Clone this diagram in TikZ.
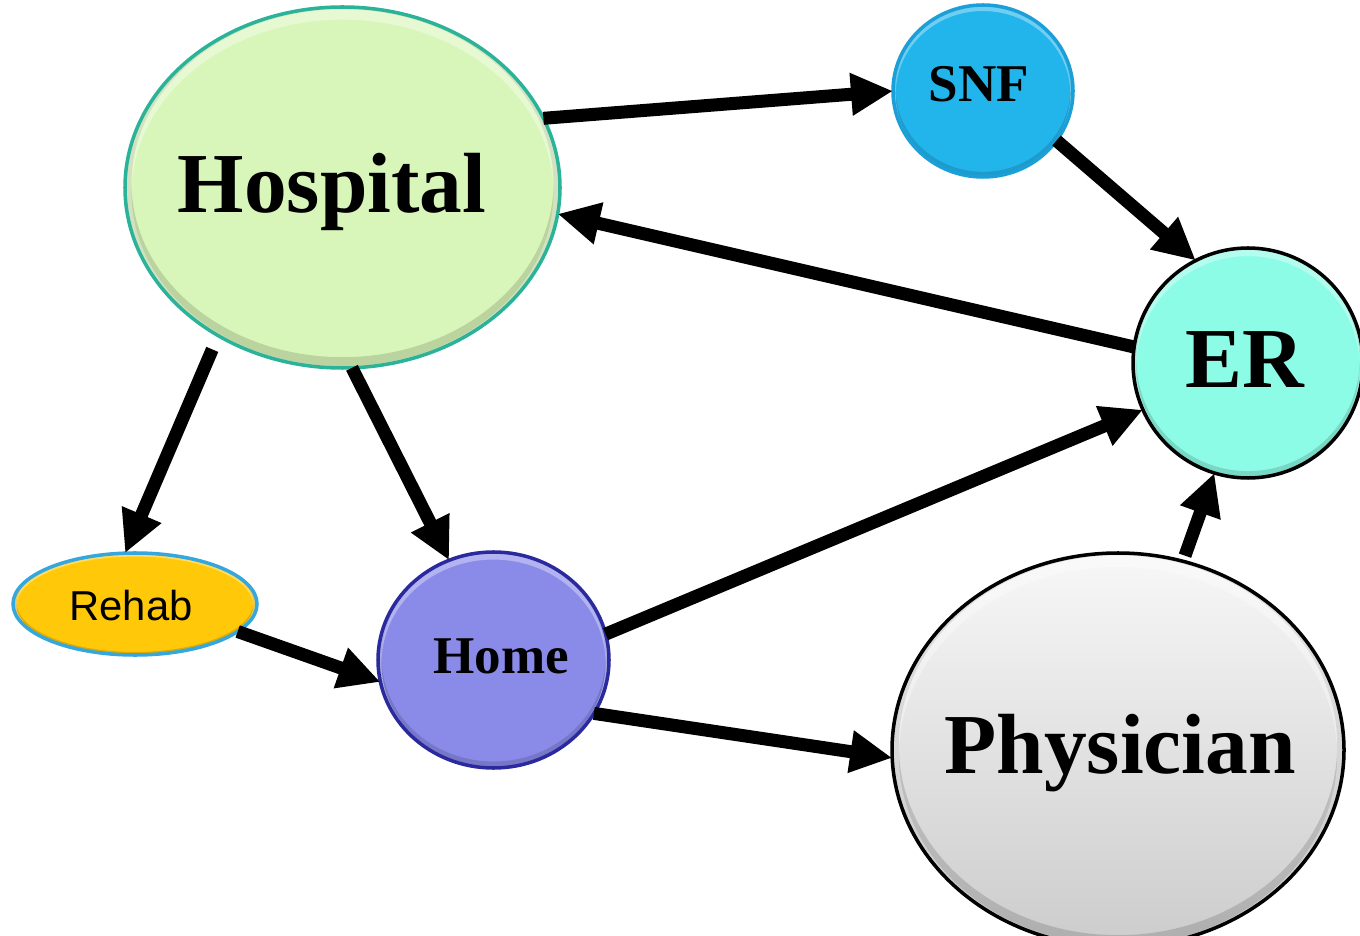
\documentclass[tikz,border=0pt]{standalone}
\usepackage{fontspec}
\setmainfont{Liberation Serif}
\newfontfamily\rehabfont{Liberation Sans}
\usetikzlibrary{shapes.geometric,arrows.meta,calc}
\definecolor{hospfill}{HTML}{D9F6BA}
\definecolor{hospline}{HTML}{2BB39A}
\definecolor{snffill}{HTML}{22B5EC}
\definecolor{snfline}{HTML}{1A9FD8}
\definecolor{erfill}{HTML}{8DFCE6}
\definecolor{rehabfill}{HTML}{FFC90A}
\definecolor{rehabline}{HTML}{35A7DC}
\definecolor{homefill}{HTML}{8A8BE8}
\definecolor{homeline}{HTML}{2A2A9E}
\tikzset{
  bevel/.style={path picture={
    \fill[black,opacity=.14,even odd rule]
      let \p1=(path picture bounding box.north east),
          \p2=(path picture bounding box.south west) in
      (\p2) rectangle (\p1)
      ($(\p1)!.5!(\p2)+(0,{0.012*(\y1-\y2)})$) ellipse [x radius={0.485*(\x1-\x2)}, y radius={0.482*(\y1-\y2)}];
    \fill[white,opacity=.35,even odd rule]
      let \p1=(path picture bounding box.north east),
          \p2=(path picture bounding box.south west) in
      (\p2) rectangle (\p1)
      ($(\p1)!.5!(\p2)+(0,{-0.015*(\y1-\y2)})$) ellipse [x radius={0.485*(\x1-\x2)}, y radius={0.48*(\y1-\y2)}];
  }},
  bubble/.style={ellipse, inner sep=0pt, outer sep=0pt, line width=1pt, bevel},
  lbl/.style={inner sep=0pt, anchor=base, font=\bfseries},
  arr/.style={line width=3.7pt, -{Triangle[length=0.42cm,width=0.4cm]}}
}
\begin{document}
\begin{tikzpicture}
\useasboundingbox (0,0) rectangle (13.6,9.35);
\clip (0,0) rectangle (13.6,9.35);
\fill[white] (0,0) rectangle (13.6,9.35);

\node[bubble, fill=hospfill, draw=hospline, minimum width=4.35cm, minimum height=3.61cm] (hosp) at (3.425,7.475) {};
\node[bubble, fill=snffill, draw=snfline, minimum width=1.80cm, minimum height=1.72cm] (snf) at (9.83,8.44) {};
\node[bubble, fill=erfill, draw=black, minimum width=2.30cm, minimum height=2.30cm] (er) at (12.48,5.72) {};
\node[bubble, fill=rehabfill, draw=rehabline, minimum width=2.44cm, minimum height=1.02cm] (rehab) at (1.35,3.31) {};
\node[bubble, fill=homefill, draw=homeline, minimum width=2.31cm, minimum height=2.16cm] (home) at (4.935,2.75) {};
\node[bubble, top color=white!97!black, bottom color=black!20, draw=black, minimum width=4.52cm, minimum height=3.94cm] (phys) at (11.18,1.85) {};

\node[lbl, font=\bfseries\fontsize{24.3}{28}\selectfont] (hosplbl) at (3.32,7.22) {Hospital};
\node[lbl, font=\bfseries\fontsize{15.1}{18}\selectfont] (snflbl) at (9.79,8.33) {SNF};
\node[lbl, font=\bfseries\fontsize{24.3}{28}\selectfont] (erlbl) at (12.45,5.47) {ER};
\node[lbl, font=\bfseries\fontsize{15.1}{18}\selectfont] (homelbl) at (5.01,2.62) {Home};
\node[inner sep=0pt, anchor=base, font=\rehabfont\fontsize{11.9}{14}\selectfont] (rehablbl) at (1.31,3.15) {Rehab};
\node[lbl, font=\bfseries\fontsize{24.3}{28}\selectfont] (physlbl) at (11.20,1.62) {Physician};

\draw[arr] (hosp.19.4) -- (snf.180);
\draw[arr] (snf.-34) -- (er.117.7);
\draw[arr] (er.172) -- (hosp.-7.5);
\draw[arr, shorten <=0.15cm] (hosp.-130.5) -- (rehab.101);
\draw[arr] (hosp.-87) -- (home.114);
\draw[arr] (rehab.-15) -- (home.191.5);
\draw[arr] (home.13.4) -- (er.204);
\draw[arr] (home.-28) -- (phys.182);
\draw[arr, shorten <=0.06cm] (phys.71.7) -- (er.-107.6);
\end{tikzpicture}
\end{document}
